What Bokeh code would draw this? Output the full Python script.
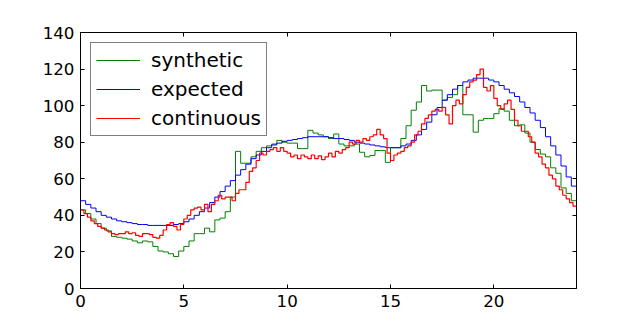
from bokeh.plotting import figure
from bokeh.models import LinearAxis, FixedTicker, Range1d, Legend, LegendItem
from bokeh.embed import file_html
from bokeh.resources import INLINE
import numpy as np

# 15-minute values
expected = [48, 46, 44, 42, 40, 39, 38, 37, 36.5, 36, 35.5, 35, 35, 34.5, 34.5, 34.5,
            34.5, 34.5, 35, 35.5, 36.5, 38, 40, 42, 44, 47, 50, 53, 56, 59, 62, 65,
            68, 71, 73, 75, 77, 78.5, 79.5, 80.5, 81, 81.5, 82, 82.5, 83, 83, 83, 83,
            82.5, 82, 82, 81.5, 81, 80, 79.5, 79, 78.5, 78, 77.5, 77, 77, 77, 78, 79,
            81, 84, 87, 91, 95, 99, 103, 106, 109, 111, 113, 114, 115, 115, 115, 114,
            113, 111, 109, 107, 105, 102, 99, 96, 92, 88, 83, 78, 73, 67, 61, 56]

synthetic = [43, 41, 38, 35.5, 33, 31.5, 28.5, 28, 27.5, 27, 26, 25, 26, 25.5, 23, 20.5,
             20, 19, 17.5, 20.5, 23, 26, 30, 30, 33, 31, 37.5, 38.5, 42, 50, 75, 68.5,
             68.5, 72, 75, 77, 78, 79, 81, 80, 79.5, 79.5, 76.5, 76.5, 86.5, 85, 84, 83,
             82, 84.5, 79, 78, 78, 79, 74.5, 72, 72.8, 75.5, 75.5, 69, 77, 77, 82, 89,
             97.5, 102, 111, 108, 108.5, 108.5, 103, 104.5, 106, 111, 95, 95, 85.5, 92, 93, 93,
             95.6, 98.3, 97, 92, 89, 89.5, 85, 80, 76, 73.5, 72, 66, 63, 55, 52, 48]

# 10-minute values
continuous = [43, 41, 39, 37, 35.5, 34, 33, 32, 31, 30, 29.5, 30,
              30, 31, 30, 30.5, 29, 28.5, 30, 30, 29.5, 28, 27.5, 29,
              32, 35, 36, 34, 32, 35, 38, 40, 43, 44, 44.5, 43,
              46, 42, 46, 48, 51, 49, 50, 50, 48, 52, 54, 54,
              58, 64, 66, 70, 74, 73, 75, 76, 77, 75, 77, 75,
              74, 72, 73, 71, 73, 72, 71, 73, 71, 72.5, 70.5, 72,
              74, 72, 75, 74, 76, 77, 80, 79, 81, 80, 82, 81,
              83, 84, 87, 84, 82, 74, 70, 73, 74, 75, 77, 78,
              80, 84, 86, 90, 93, 95, 97, 98, 97, 99, 95, 90,
              100, 103, 101, 106, 110, 113, 114, 117, 120, 110, 108, 111,
              104, 100, 98, 101, 103, 98, 92, 89, 86, 86, 83, 80,
              74, 72, 68, 66, 62, 60, 56, 54, 51, 49, 47, 45]

x_ticks = [0, 5, 10, 15, 20]
y_ticks = [0, 20, 40, 60, 80, 100, 120, 140]

GREEN, BLUE, RED = "#008000", "#0000ff", "#ff0000"

t15 = list(np.arange(len(expected) + 1) * 0.25)
t10 = list(np.arange(len(continuous) + 1) * (24 / len(continuous)))

p = figure(width=632, height=313, output_backend="svg", toolbar_location=None,
           x_range=Range1d(0, 24), y_range=Range1d(0, 140),
           min_border_left=80, min_border_right=56, min_border_top=32, min_border_bottom=25)

g = p.step(t15, synthetic + [synthetic[-1]], mode="after", line_color=GREEN, line_width=1)
b = p.step(t15, expected + [expected[-1]], mode="after", line_color=BLUE, line_width=1)
r = p.step(t10, continuous + [continuous[-1]], mode="after", line_color=RED, line_width=1.2)

p.xgrid.visible = False
p.ygrid.visible = False
p.outline_line_color = "black"
p.outline_line_width = 1
p.background_fill_color = "white"
p.border_fill_color = "white"

font = "DejaVu Sans"
for ax, ticks in ((p.xaxis[0], x_ticks), (p.yaxis[0], y_ticks)):
    ax.ticker = FixedTicker(ticks=ticks)
    ax.major_tick_in = 4
    ax.major_tick_out = 0
    ax.minor_tick_line_color = None
    ax.axis_line_color = "black"
    ax.major_label_text_font = font
    ax.major_label_text_font_size = "16.7px"
    ax.major_label_text_color = "black"
    ax.major_label_standoff = 6

for loc, ticks in (("right", y_ticks), ("above", x_ticks)):
    ax = LinearAxis(ticker=FixedTicker(ticks=ticks))
    ax.major_tick_in = 4
    ax.major_tick_out = 0
    ax.minor_tick_line_color = None
    ax.axis_line_color = None
    ax.major_label_overrides = {t: "" for t in ticks}
    ax.major_label_standoff = 0
    p.add_layout(ax, loc)

legend = Legend(items=[LegendItem(label="synthetic", renderers=[g]),
                       LegendItem(label="expected", renderers=[b]),
                       LegendItem(label="continuous", renderers=[r])],
                location="top_left")
legend.margin = 10
legend.padding = 5
legend.spacing = 5
legend.glyph_width = 44
legend.glyph_height = 20
legend.label_height = 20
legend.label_standoff = 11
legend.label_text_font = font
legend.label_text_font_size = "20px"
legend.label_text_color = "black"
legend.border_line_color = "black"
legend.border_line_width = 1
legend.background_fill_alpha = 1
p.add_layout(legend)

open("out.html", "w").write(file_html(p, INLINE))
